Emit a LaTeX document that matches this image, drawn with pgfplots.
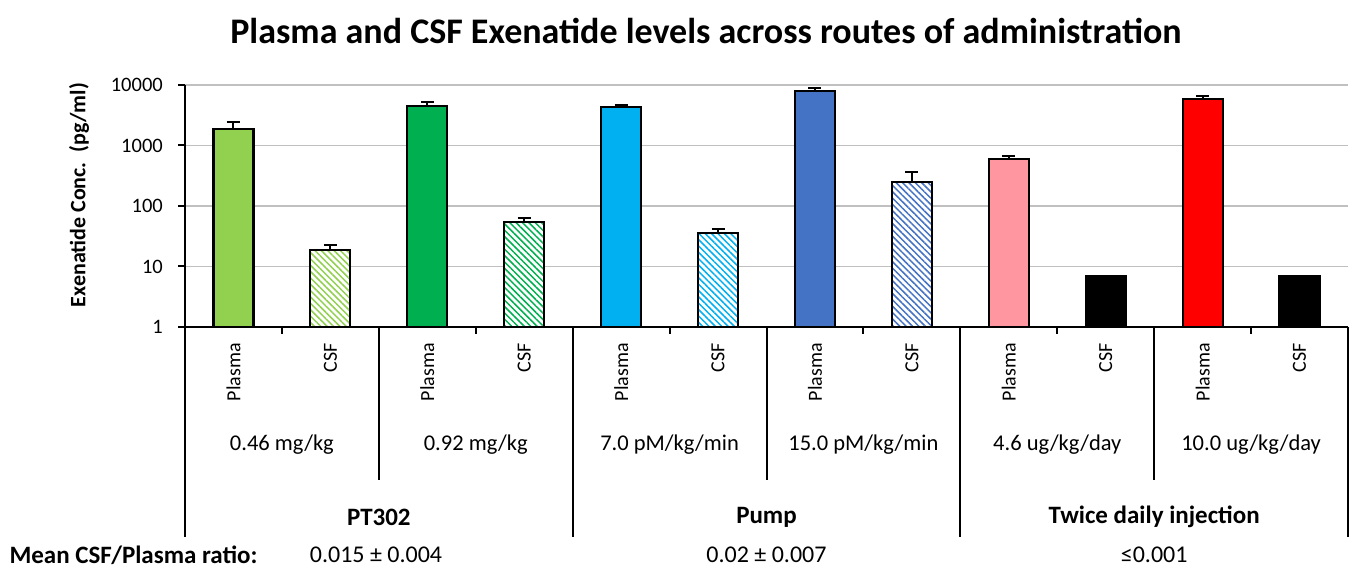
\documentclass[border=0pt]{standalone}
\usepackage{pgfplots}
\pgfplotsset{compat=1.18}
\usetikzlibrary{patterns,patterns.meta}
\usepackage{fontspec}
\setmainfont{Carlito}
\definecolor{c1}{RGB}{146,208,80}
\definecolor{c2}{RGB}{0,176,80}
\definecolor{c3}{RGB}{0,176,240}
\definecolor{c4}{RGB}{68,114,196}
\definecolor{c5}{RGB}{255,150,160}
\definecolor{c6}{RGB}{255,0,0}
\definecolor{gridgray}{RGB}{192,192,192}
\pgfplotsset{
  barbase/.style={ybar, bar width=40pt, bar shift=0pt, draw=black, line width=2.2pt},
  errs/.style={error bars/.cd, y dir=plus, y explicit,
     error bar style={line width=2pt, black, solid},
     error mark options={rotate=90, line width=2pt, black, mark size=6.5pt}},
  plasma/.style={barbase, fill=#1},
  csf/.style={barbase, preaction={fill=white}, pattern={Lines[angle=-45,distance=4.5pt,line width=1.5pt]}, pattern color=#1},
}
\begin{document}
\begin{tikzpicture}[x=1pt,y=1pt]
\useasboundingbox (0,0) rectangle (1355,572);
\begin{axis}[at={(185pt,245pt)}, anchor=south west, scale only axis,
  width=1163pt, height=242pt,
  xmin=-0.5, xmax=11.5, ymode=log, ymin=1, ymax=10000,
  ytick={1,10,100,1000,10000}, yticklabels={},
  yminorticks=false, ymajorgrids,
  grid style={line width=1.8pt, color=gridgray},
  axis lines*=left, axis line style={line width=2pt},
  xtick={0.5,2.5,4.5,6.5,8.5,10.5}, xticklabels={},
  tick align=outside, major tick length=7pt,
  tick style={line width=2pt, black},
  clip=false,
]
\addplot[plasma=c1, errs] coordinates {(0,1870) +- (0,530)};
\addplot[csf=c1, errs] coordinates {(1,18.5) +- (0,4.5)};
\addplot[plasma=c2, errs] coordinates {(2,4550) +- (0,600)};
\addplot[csf=c2, errs] coordinates {(3,55) +- (0,8)};
\addplot[plasma=c3, errs] coordinates {(4,4390) +- (0,210)};
\addplot[csf=c3, errs] coordinates {(5,35.4) +- (0,5.6)};
\addplot[plasma=c4, errs] coordinates {(6,7900) +- (0,1100)};
\addplot[csf=c4, errs] coordinates {(7,250) +- (0,115)};
\addplot[plasma=c5, errs] coordinates {(8,590) +- (0,80)};
\addplot[plasma=black] coordinates {(9,7)};
\addplot[plasma=c6, errs] coordinates {(10,5850) +- (0,650)};
\addplot[plasma=black] coordinates {(11,7)};
\end{axis}
% y tick labels
\foreach \y/\t in {245/1, 305.5/10, 366/100, 426.5/1000, 487/10000}{
  \node[anchor=east, inner sep=0pt, font=\fontsize{20.5}{24}\selectfont] at (163,\y) {\t};
}
% separators
\draw[line width=2pt] (185,245) -- (185,35);
\draw[line width=2pt] (572.67,245) -- (572.67,35);
\draw[line width=2pt] (960.33,245) -- (960.33,35);
\draw[line width=2pt] (1348,245) -- (1348,35);
\draw[line width=2pt] (378.83,245) -- (378.83,92);
\draw[line width=2pt] (766.5,245) -- (766.5,92);
\draw[line width=2pt] (1154.17,245) -- (1154.17,92);
% category labels
\foreach \k in {0,2,4,6,8,10}{
  \node[rotate=90, anchor=east, inner sep=0pt, font=\fontsize{20}{24}\selectfont] at ({233.46+96.917*\k},229) {Plasma};
  \node[rotate=90, anchor=east, inner sep=0pt, font=\fontsize{20}{24}\selectfont] at ({233.46+96.917*(\k+1)},229) {CSF};
}
\foreach \x/\t in {281.9/{0.46 mg/kg}, 475.75/{0.92 mg/kg}, 669.6/{7.0 pM/kg/min}, 863.4/{15.0 pM/kg/min}, 1057.3/{4.6 ug/kg/day}, 1251.1/{10.0 ug/kg/day}}{
  \node[font=\fontsize{22.5}{26}\selectfont] at (\x,127) {\t};
}
\foreach \x/\t in {378.83/{PT302}, 766.5/{Pump}, 1154.17/{Twice daily injection}}{
  \node[font=\fontsize{25}{29}\bfseries] at (\x,55) {\t};
}
\node[anchor=west, font=\fontsize{25}{29}\bfseries] at (6,17) {Mean CSF/Plasma ratio:};
\node[font=\fontsize{24}{28}\selectfont] at (376,17) {0.015 ± 0.004};
\node[font=\fontsize{24}{28}\selectfont] at (766.5,17) {0.02 ± 0.007};
\node[font=\fontsize{24}{28}\selectfont] at (1154.17,17) {≤0.001};
\node[rotate=90, font=\fontsize{22}{26}\bfseries] at (79,377) {Exenatide Conc.\ \ (pg/ml)};
\node[font=\fontsize{36}{42}\bfseries] at (706,541) {Plasma and CSF Exenatide levels across routes of administration};
\end{tikzpicture}
\end{document}
